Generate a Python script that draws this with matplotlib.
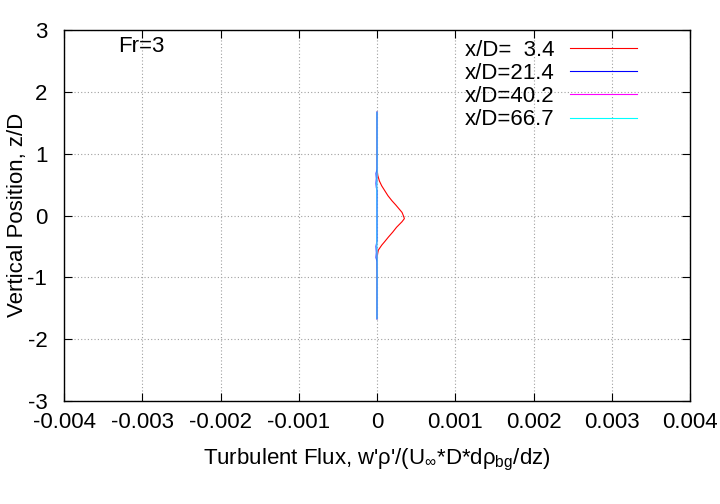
import matplotlib
matplotlib.use("Agg")
import matplotlib.pyplot as plt
from matplotlib import font_manager

names = {f.name for f in font_manager.fontManager.ttflist}
if 'Liberation Sans Narrow' in names:
    FAM = 'Liberation Sans Narrow'
    FS = 15.5
else:
    FAM = 'Liberation Sans'
    FS = 16

plt.rcParams['font.family'] = [FAM, 'DejaVu Sans']
plt.rcParams['mathtext.default'] = 'regular'
plt.rcParams['axes.unicode_minus'] = False

# data
red_z = [1.67, 1.2, 0.9, 0.73, 0.65, 0.56, 0.48, 0.40, 0.32, 0.24, 0.17, 0.11, 0.05, 0.0,
         -0.05, -0.10, -0.19, -0.27, -0.35, -0.42, -0.48, -0.56, -0.62, -0.67, -0.8, -1.2, -1.67]
red_f = [0, 0, 0, 0.000003, 0.00001, 0.00003, 0.00006, 0.0001, 0.00014, 0.00019, 0.00024,
         0.00028, 0.00032, 0.000336, 0.00035, 0.00032, 0.00025, 0.0002, 0.000145, 0.0001,
         0.00006, 0.000017, 0.000008, 0.000003, 0, 0, 0]
blue_z = [1.67, 1.0, 0.75, 0.68, 0.6, 0.52, 0.45, 0.4, 0.0, -0.4, -0.5, -0.6, -0.68, -0.75, -1.0, -1.67]
blue_f = [0, 0.000002, 0, -0.000012, -0.000008, -0.000012, -0.000008, 0, 0, 0, -0.000012,
          -0.000008, -0.000012, 0, 0.000002, 0]
mag_z = [1.67, 0.7, 0.5, 0.0, -0.5, -0.7, -1.67]
mag_f = [0, 0.000002, -0.000004, 0, -0.000004, 0.000002, 0]
cyan_z = [1.67, 0.7, 0.5, 0.0, -0.5, -0.7, -1.67]
cyan_f = [0, 0.000001, -0.000002, 0, -0.000002, 0.000001, 0]

labels = ["x/D=  3.4", "x/D=21.4", "x/D=40.2", "x/D=66.7"]
colors = ["#ff0000", "#0000ff", "#ff00ff", "#00ffff"]
xticks = [-0.004, -0.003, -0.002, -0.001, 0, 0.001, 0.002, 0.003, 0.004]
xticklabels = ["-0.004", "-0.003", "-0.002", "-0.001", "0", "0.001", "0.002", "0.003", "0.004"]
yticks = [-3, -2, -1, 0, 1, 2, 3]
yticklabels = ["-3", "-2", "-1", "0", "1", "2", "3"]

fig = plt.figure(figsize=(7.2, 5.04), dpi=100)
ax = fig.add_axes([64/720, 1-401/504, (690-64)/720, (401-30)/504])

series = [(red_f, red_z), (blue_f, blue_z), (mag_f, mag_z), (cyan_f, cyan_z)]
for (f, z), c, lab in zip(series, colors, labels):
    ax.plot(f, z, color=c, lw=0.8, label=lab)

ax.set_xlim(-0.004, 0.004)
ax.set_ylim(-3, 3)
ax.set_xticks(xticks)
ax.set_xticklabels(xticklabels)
ax.set_yticks(yticks)
ax.set_yticklabels(yticklabels)
ax.tick_params(direction='in', top=True, right=True, length=6, labelsize=FS)
ax.tick_params(axis='x', pad=8)
ax.tick_params(axis='y', pad=12)
ax.grid(True, color='#a0a0a0', linestyle=(0, (1, 2)), lw=0.8)
for s in ax.spines.values():
    s.set_linewidth(1.0)

ax.set_xlabel(r"Turbulent Flux, w'ρ'/(U$_{\infty}$*D*dρ$_{bg}$/dz)", fontsize=FS)
ax.set_ylabel("Vertical Position, z/D", fontsize=FS)
ax.xaxis.set_label_coords((377-64)/626, -(460-401)/371)
ax.xaxis.label.set_va('center')
ax.yaxis.set_label_coords((18-64)/626, (401-215)/371)
ax.yaxis.label.set_va('center')
ax.text(-0.00331, 2.74, "Fr=3", fontsize=FS, va='center', ha='left')

leg = ax.legend(loc='upper right', bbox_to_anchor=(0.94, 1.016), frameon=False,
                markerfirst=False, fontsize=FS, handlelength=3.0, labelspacing=0.1,
                handletextpad=0.7, borderaxespad=0.3)

fig.savefig("out.png", dpi=100)
